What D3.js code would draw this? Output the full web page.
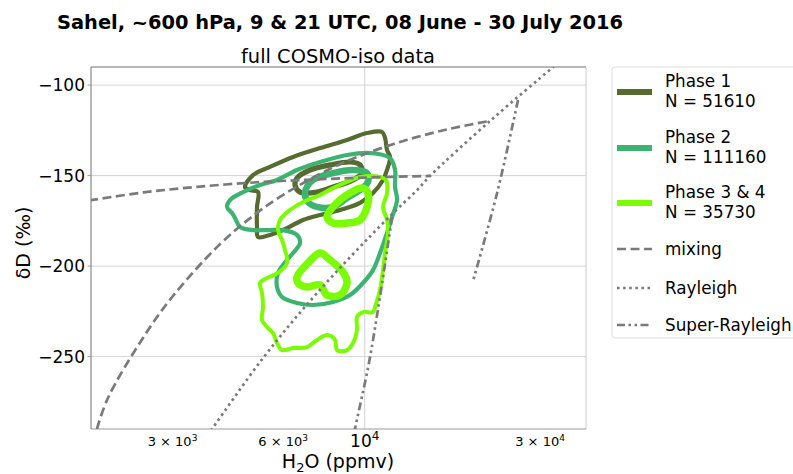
<!DOCTYPE html>
<html>
<head>
<meta charset="utf-8">
<script src="https://cdn.jsdelivr.net/npm/d3@7"></script>
<style>
  html, body { margin: 0; padding: 0; background: #ffffff; }
  svg { display: block; font-family: "DejaVu Sans", sans-serif; }
</style>
</head>
<body>
<svg id="chart" width="793" height="474"></svg>
<script>
// ---- data: contours (H2O in ppmv, deltaD in permil) ----
const phase1Outer = [[4724,-156.3],[4967,-149.7],[5525,-145.2],[6382,-139.7],[7558,-134.8],[8951,-130.3],[10146,-126.5],[11146,-125.9],[11357,-129.2],[11501,-135.9],[11719,-139.7],[11501,-146.9],[11216,-152.4],[10534,-159.6],[9710,-165.1],[8567,-169.0],[7558,-171.8],[6795,-174.5],[6147,-179.0],[5525,-182.8],[5125,-183.9],[5093,-178.4],[5093,-167.3],[5125,-159.1],[4874,-158.0]];
const phase1Inner = [[6544,-151.3],[7099,-146.9],[8047,-144.1],[9121,-142.5],[9710,-144.1],[9833,-148.6],[9294,-152.4],[8199,-156.3],[7417,-159.1],[6668,-159.1],[6462,-155.2]];

const phase2Outer = [[4221,-167.3],[4300,-163.5],[4666,-159.1],[5190,-155.2],[5773,-152.4],[6544,-146.9],[7558,-142.5],[8951,-138.6],[10338,-137.5],[11719,-140.3],[12092,-146.9],[12092,-156.3],[12244,-163.5],[11867,-172.9],[11501,-181.7],[11007,-192.8],[10534,-202.2],[9895,-209.3],[9121,-216.0],[8199,-219.8],[7234,-221.5],[6544,-220.4],[5957,-217.1],[5773,-211.5],[5809,-203.8],[6147,-196.6],[6382,-192.8],[6668,-187.2],[6544,-182.8],[5994,-180.1],[5422,-180.1],[4967,-180.1],[4579,-178.4],[4437,-173.4],[4355,-170.7]];
const phase2Inner = [[6880,-159.1],[7234,-152.4],[8199,-148.6],[9294,-146.9],[10146,-148.6],[10210,-153.5],[9710,-158.0],[8951,-162.4],[8199,-167.3],[7417,-167.3],[7011,-164.6]];

const phase34Outer = [[9710,-150.8],[11007,-150.8],[11429,-152.4],[11501,-159.6],[11216,-167.3],[11501,-174.5],[11573,-181.7],[11357,-192.8],[11216,-202.2],[11007,-213.2],[10667,-222.6],[10534,-225.4],[9895,-225.4],[9530,-228.1],[9530,-235.3],[9294,-242.5],[8951,-246.4],[8407,-246.4],[8303,-240.8],[7897,-238.1],[7417,-240.8],[6967,-244.7],[6382,-245.3],[5957,-246.4],[5773,-242.5],[5630,-237.0],[5422,-233.6],[5255,-229.8],[5288,-222.6],[5255,-214.9],[5190,-209.3],[5422,-206.6],[5809,-203.8],[6147,-198.3],[6070,-191.1],[5957,-185.6],[5809,-180.1],[5882,-174.5],[6263,-169.0],[6795,-164.6],[7558,-160.7],[8199,-156.9],[8951,-153.5]];
const phase34InnerA = [[7897,-172.9],[8199,-167.3],[9121,-159.6],[9895,-156.9],[10210,-159.6],[10146,-167.3],[9710,-174.5],[8951,-176.2],[8199,-176.2]];
const phase34InnerB = [[6544,-206.0],[7011,-198.3],[7558,-192.8],[8047,-196.6],[8730,-203.3],[8951,-209.3],[8567,-216.0],[7897,-216.0],[7558,-210.4],[6967,-211.5],[6585,-209.3]];

// ---- data: reference process curves ----
const mixingSteep = [[1868,-290],[2000,-273.0],[2500,-239.3],[3000,-216.8],[4000,-188.7],[5000,-171.8],[6000,-160.6],[8000,-146.5],[10000,-138.1],[13000,-130.3],[17000,-124.2],[21930,-119.8]];
const mixingFlat = [[1780,-163.7],[2500,-159.3],[3500,-156.2],[5000,-153.8],[7000,-152.3],[10000,-151.1],[15050,-150.2]];
const rayleigh = [[3564,-299],[3841,-290],[5289,-250.8],[7418,-214.9],[11500,-174.0],[13880,-158.0],[15050,-150.2],[21930,-119.8],[32530,-90],[36200,-81.7]];
const superRayleighA = [[11870,-172.9],[10340,-250.2],[9410,-290],[9240,-299]];
const superRayleighB = [[26130,-108.2],[22920,-159.6],[19710,-208.2]];

// ---- ticks and labels ----
const yTicks = [-100, -150, -200, -250];
const xMajorTicks = [10000];
const xMinorTicks = [3000, 6000, 30000];
const phaseNames = ["Phase 1", "Phase 2", "Phase 3 & 4"];
const phaseCounts = [51610, 111160, 35730];
const phaseColors = ["#556b2f", "#3cb371", "#7cfc00"];
const lineNames = ["mixing", "Rayleigh", "Super-Rayleigh"];

const svg = d3.select("#chart");
const m = { left: 91, right: 586, top: 67, bottom: 429 };

const x = d3.scaleLog().domain([1800, 40000]).range([m.left, m.right]);
const y = d3.scaleLinear().domain([-290, -90]).range([m.bottom, m.top]);

// titles
svg.append("text").attr("x", 340).attr("y", 29).attr("text-anchor", "middle")
  .attr("font-size", 19.4).attr("font-weight", "bold").attr("fill", "#000")
  .text("Sahel, ~600 hPa, 9 & 21 UTC, 08 June - 30 July 2016");
svg.append("text").attr("x", 338).attr("y", 63).attr("text-anchor", "middle")
  .attr("font-size", 19.4).attr("fill", "#000").text("full COSMO-iso data");

// grid
const grid = svg.append("g");
grid.selectAll("line.h").data(yTicks).enter().append("line")
  .attr("x1", m.left).attr("x2", m.right)
  .attr("y1", d => y(d)).attr("y2", d => y(d))
  .attr("stroke", "#d4d4d4").attr("stroke-width", 1);
grid.selectAll("line.v").data(xMajorTicks).enter().append("line")
  .attr("x1", d => x(d)).attr("x2", d => x(d))
  .attr("y1", m.top).attr("y2", m.bottom)
  .attr("stroke", "#d4d4d4").attr("stroke-width", 1);

// plot frame
svg.append("line").attr("x1", m.right).attr("x2", m.right).attr("y1", m.top).attr("y2", m.bottom)
  .attr("stroke", "#cccccc").attr("stroke-width", 1);
svg.append("line").attr("x1", m.left).attr("x2", m.right).attr("y1", m.bottom).attr("y2", m.bottom)
  .attr("stroke", "#999999").attr("stroke-width", 1);
svg.append("line").attr("x1", m.left).attr("x2", m.right).attr("y1", m.top).attr("y2", m.top)
  .attr("stroke", "#707070").attr("stroke-width", 1);
svg.append("line").attr("x1", m.left).attr("x2", m.left).attr("y1", m.top).attr("y2", m.bottom)
  .attr("stroke", "#707070").attr("stroke-width", 1);

// y axis ticks + labels
const yAxis = svg.append("g");
yAxis.selectAll("line").data(yTicks).enter().append("line")
  .attr("x1", m.left - 3.5).attr("x2", m.left).attr("y1", d => y(d)).attr("y2", d => y(d))
  .attr("stroke", "#999").attr("stroke-width", 1);
yAxis.selectAll("text").data(yTicks).enter().append("text")
  .attr("x", m.left - 6).attr("y", d => y(d) + 6.3).attr("text-anchor", "end")
  .attr("font-size", 17).attr("fill", "#000")
  .text(d => "\u2212" + Math.abs(d));

// x axis labels (log scale, mathtext-like)
const xAxis = svg.append("g");
xMajorTicks.forEach(v => {
  const t = xAxis.append("text").attr("x", x(v)).attr("y", 447).attr("text-anchor", "middle")
    .attr("font-size", 17).attr("fill", "#000");
  t.append("tspan").text("10");
  t.append("tspan").attr("dy", -7).attr("font-size", 12).text(String(Math.round(Math.log10(v))));
});
xMinorTicks.forEach(v => {
  const e = Math.floor(Math.log10(v));
  const mant = Math.round(v / Math.pow(10, e));
  const t = xAxis.append("text").attr("x", x(v)).attr("y", 446).attr("text-anchor", "middle")
    .attr("font-size", 13).attr("fill", "#000");
  t.append("tspan").text(mant + " \u00d7 10");
  t.append("tspan").attr("dy", -5).attr("font-size", 9).text(String(e));
});

// axis titles
const xl = svg.append("text").attr("x", 338).attr("y", 468).attr("text-anchor", "middle")
  .attr("font-size", 19).attr("fill", "#000");
xl.append("tspan").text("H");
xl.append("tspan").attr("dy", 4).attr("font-size", 13).text("2");
xl.append("tspan").attr("dy", -4).text("O (ppmv)");
svg.append("text").attr("transform", "translate(30,243) rotate(-90)").attr("text-anchor", "middle")
  .attr("font-size", 19).attr("fill", "#000").text("\u03b4D (\u2030)");

// clip to the plotting area
svg.append("defs").append("clipPath").attr("id", "plotclip").append("rect")
  .attr("x", m.left).attr("y", m.top).attr("width", m.right - m.left).attr("height", m.bottom - m.top);
const plot = svg.append("g").attr("clip-path", "url(#plotclip)");

// contours
const closed = d3.line().x(d => x(d[0])).y(d => y(d[1])).curve(d3.curveCatmullRomClosed.alpha(0.5));
const contours = [
  { pts: phase1Outer, c: phaseColors[0], w: 4.2 },
  { pts: phase1Inner, c: phaseColors[0], w: 5.2 },
  { pts: phase2Outer, c: phaseColors[1], w: 4.2 },
  { pts: phase2Inner, c: phaseColors[1], w: 6.5 },
  { pts: phase34Outer, c: phaseColors[2], w: 4.0 },
  { pts: phase34InnerA, c: phaseColors[2], w: 7.5 },
  { pts: phase34InnerB, c: phaseColors[2], w: 7.5 }
];
plot.selectAll("path.contour").data(contours).enter().append("path")
  .attr("class", "contour").attr("d", d => closed(d.pts))
  .attr("fill", "none").attr("stroke", d => d.c).attr("stroke-width", d => d.w)
  .attr("stroke-linejoin", "round");

// process curves
const open = d3.line().x(d => x(d[0])).y(d => y(d[1])).curve(d3.curveCatmullRom.alpha(0.5));
const dashMix = "9,4.5", dashRay = "2.6,3.5", dashSR = "8,3.5,2.5,3.5,2.5,3.5";
const curves = [
  { pts: mixingSteep, dash: dashMix },
  { pts: mixingFlat, dash: dashMix },
  { pts: rayleigh, dash: dashRay },
  { pts: superRayleighA, dash: dashSR },
  { pts: superRayleighB, dash: dashSR }
];
plot.selectAll("path.proc").data(curves).enter().append("path")
  .attr("class", "proc").attr("d", d => open(d.pts))
  .attr("fill", "none").attr("stroke", "#7a7a7a").attr("stroke-width", 2.7)
  .attr("stroke-dasharray", d => d.dash);

// legend
const lg = svg.append("g");
lg.append("rect").attr("x", 612).attr("y", 67).attr("width", 190).attr("height", 271)
  .attr("rx", 3).attr("fill", "#fff").attr("stroke", "#dddddd").attr("stroke-width", 1);
const phaseY = [92, 148, 203];
phaseNames.forEach((name, i) => {
  lg.append("line").attr("x1", 617).attr("x2", 652).attr("y1", phaseY[i]).attr("y2", phaseY[i])
    .attr("stroke", phaseColors[i]).attr("stroke-width", 6);
  lg.append("text").attr("x", 665).attr("y", phaseY[i] - 5.5).attr("font-size", 16.8).attr("fill", "#000").text(name);
  lg.append("text").attr("x", 665).attr("y", phaseY[i] + 14.5).attr("font-size", 16.8).attr("fill", "#000")
    .text("N = " + phaseCounts[i]);
});
const lineY = [249, 288, 325];
const lineDash = [dashMix, dashRay, dashSR];
lineNames.forEach((name, i) => {
  lg.append("line").attr("x1", 617).attr("x2", 652).attr("y1", lineY[i]).attr("y2", lineY[i])
    .attr("stroke", "#7a7a7a").attr("stroke-width", 2.7).attr("stroke-dasharray", lineDash[i]);
  lg.append("text").attr("x", 665).attr("y", lineY[i] + 5.5).attr("font-size", 16.8).attr("fill", "#000").text(name);
});
</script>
</body>
</html>
